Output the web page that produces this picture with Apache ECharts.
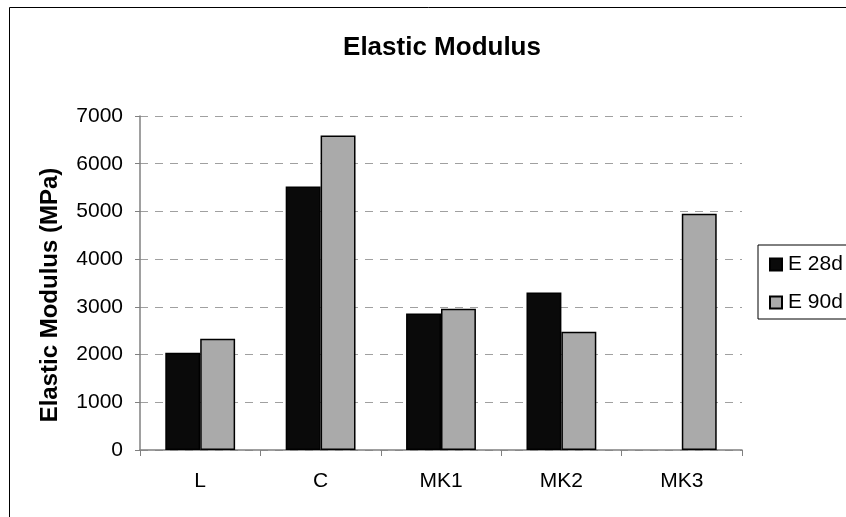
<!DOCTYPE html>
<html><head><meta charset="utf-8">
<script src="https://cdn.jsdelivr.net/npm/echarts@6/dist/echarts.min.js"></script>
<style>html,body{margin:0;padding:0;background:#fff}#c{width:846px;height:517px}</style>
</head><body><div id="c"></div>
<script>
const categories = ['L', 'C', 'MK1', 'MK2', 'MK3'];
const e28 = [2040, 5520, 2860, 3300, null];
const e90 = [2330, 6590, 2960, 2480, 4950];
const yTicks = [0, 1000, 2000, 3000, 4000, 5000, 6000, 7000];
const seriesNames = ['E 28d', 'E 90d'];

const FONT = '"Liberation Sans", Arial, sans-serif';
const chart = echarts.init(document.getElementById('c'), null, {renderer: 'canvas'});
chart.setOption({
  animation: false,
  backgroundColor: '#fff',
  title: {
    text: 'Elastic Modulus', left: 437, top: 30, textAlign: 'center',
    textStyle: {fontFamily: FONT, fontWeight: 'bold', fontSize: 26, color: '#000'}
  },
  graphic: [{
    type: 'rect', shape: {x: 9.5, y: 7.5, width: 900, height: 600},
    style: {fill: 'none', stroke: '#000', lineWidth: 1}, z: 100, silent: true
  }],
  legend: {
    orient: 'vertical', left: 758, top: 245,
    data: seriesNames,
    itemWidth: 12, itemHeight: 12, itemGap: 17,
    padding: [9, 60, 6, 11],
    borderColor: '#000', borderWidth: 1,
    textStyle: {fontFamily: FONT, fontSize: 21, color: '#000', lineHeight: 21, padding: [0, 0, 0, 1]},
    icon: 'rect'
  },
  grid: {left: 140, right: 104, top: 116, bottom: 67, containLabel: false},
  xAxis: {
    type: 'category', data: categories,
    axisLine: {lineStyle: {color: '#808080', width: 1.5}},
    axisTick: {show: true, length: 6, lineStyle: {color: '#808080'}},
    axisLabel: {fontFamily: FONT, fontSize: 21, color: '#000', margin: 21},
    splitLine: {show: false}
  },
  yAxis: {
    type: 'value', min: yTicks[0], max: yTicks[yTicks.length - 1], interval: 1000,
    name: 'Elastic Modulus (MPa)', nameLocation: 'middle', nameGap: 78, nameRotate: 90,
    nameTextStyle: {fontFamily: FONT, fontWeight: 'bold', fontSize: 24, color: '#000', padding: [0, 24, 0, 0]},
    axisLine: {show: true, lineStyle: {color: '#808080', width: 1.5}},
    axisTick: {show: true, length: 5, lineStyle: {color: '#808080'}},
    axisLabel: {fontFamily: FONT, fontSize: 21, color: '#000', margin: 17, formatter: v => String(v)},
    splitLine: {show: true, lineStyle: {color: '#a0a0a0', type: [8, 7], width: 1}}
  },
  series: [
    {
      name: seriesNames[0], type: 'bar', data: e28,
      barGap: '0%', barCategoryGap: '42%',
      itemStyle: {color: '#0a0a0a', borderColor: '#000', borderWidth: 1.5}
    },
    {
      name: seriesNames[1], type: 'bar', data: e90,
      barGap: '0%', barCategoryGap: '42%',
      itemStyle: {color: '#aaaaaa', borderColor: '#000', borderWidth: 1.5}
    }
  ]
});
</script></body></html>
